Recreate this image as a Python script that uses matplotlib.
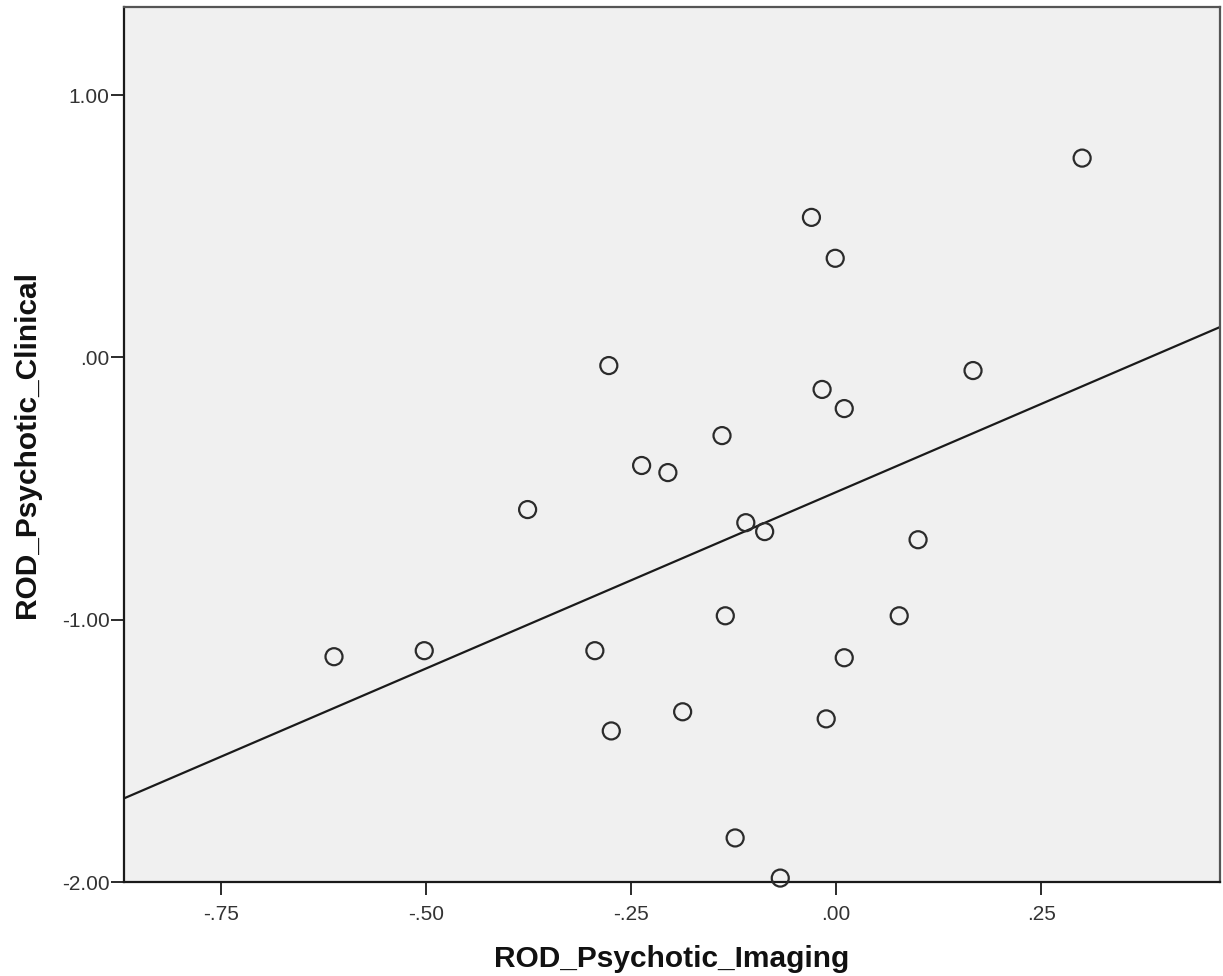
import numpy as np
import matplotlib
matplotlib.use('Agg')
import matplotlib.pyplot as plt

plt.rcParams['font.family'] = ['Liberation Sans', 'DejaVu Sans']

# values
imaging = [0.300, -0.030, -0.001, -0.277, 0.167, -0.017, 0.010, -0.139,
           -0.237, -0.205, -0.376, -0.110, -0.087, 0.100, -0.135, 0.077,
           -0.612, -0.502, -0.294, 0.010, -0.187, -0.274, -0.012, -0.123,
           -0.068]
clinical = [0.760, 0.534, 0.378, -0.031, -0.050, -0.122, -0.195, -0.298,
            -0.412, -0.439, -0.580, -0.630, -0.664, -0.695, -0.985, -0.985,
            -1.141, -1.118, -1.118, -1.145, -1.351, -1.424, -1.378, -1.832,
            -1.985]

x_ticks = [-0.75, -0.50, -0.25, 0.00, 0.25]
x_tick_labels = ['-.75', '-.50', '-.25', '.00', '.25']
y_ticks = [-2.0, -1.0, 0.0, 1.0]
y_tick_labels = ['-2.00', '-1.00', '.00', '1.00']

xlim = (-0.868, 0.468)
ylim = (-2.0, 1.336)

x = np.array(imaging)
y = np.array(clinical)

#Fit line (least squares)
slope, intercept = np.polyfit(x, y, 1)

fig = plt.figure(figsize=(12.23, 9.76), dpi=100)
ax = fig.add_axes([0.1014, 0.0963, 0.8961, 0.8965])
ax.set_facecolor('#f0f0f0')

ax.scatter(x, y, s=150, facecolors='none', edgecolors='#2b2b2b',
           linewidths=1.6, zorder=3, clip_on=False)

xs = np.array(xlim)
ax.plot(xs, intercept + slope * xs, color='#1a1a1a', linewidth=1.6, zorder=2)

ax.set_xlim(*xlim)
ax.set_ylim(*ylim)
ax.set_xticks(x_ticks)
ax.set_xticklabels(x_tick_labels)
ax.set_yticks(y_ticks)
ax.set_yticklabels(y_tick_labels)

ax.tick_params(axis='both', direction='out', length=9.5, width=1.3,
               color='#1a1a1a', labelsize=15, labelcolor='#333333', pad=1)
ax.tick_params(axis='x', pad=7)

for side in ['left', 'bottom']:
    ax.spines[side].set_color('#1a1a1a')
    ax.spines[side].set_linewidth(1.6)
for side in ['top', 'right']:
    ax.spines[side].set_color('#555555')
    ax.spines[side].set_linewidth(1.6)

ax.set_xlabel('ROD_Psychotic_Imaging', fontsize=21.5, fontweight='bold',
              labelpad=15, color='#111111')
ax.set_ylabel('ROD_Psychotic_Clinical', fontsize=21.5, fontweight='bold',
              labelpad=15, color='#111111')

fig.savefig('out.png', dpi=100)
